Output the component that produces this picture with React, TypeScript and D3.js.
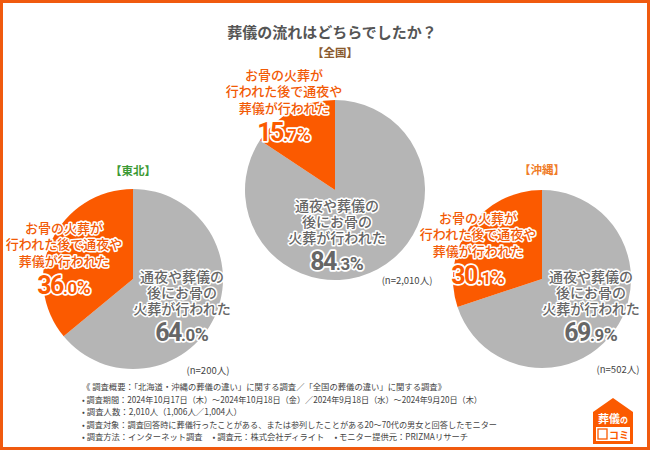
import * as d3 from 'd3';

const W = 650;
const H = 450;

// survey groups and their shares (%)
const regions = ['全国', '東北', '沖縄'];
const afterValues = [84.3, 64.0, 69.9]; // 通夜や葬儀の後にお骨の火葬
const beforeValues = [15.7, 36.0, 30.1]; // お骨の火葬が先
const sampleLabels = ['(n=2,010人)', '(n=200人)', '(n=502人)'];
const headerColors = ['#8a5a2e', '#3d9a35', '#f07c28'];

const beforeLines = ['お骨の火葬が', '行われた後で通夜や', '葬儀が行われた'];
const afterLines = ['通夜や葬儀の', '後にお骨の', '火葬が行われた'];

const footerLines = [
  '《 調査概要：「北海道・沖縄の葬儀の違い」に関する調査／「全国の葬儀の違い」に関する調査》',
  '• 調査期間：2024年10月17日（木）～2024年10月18日（金）／2024年9月18日（水）～2024年9月20日（木）',
  '• 調査人数：2,010人（1,006人／1,004人）',
  '• 調査対象：調査回答時に葬儀行ったことがある、または参列したことがある20～70代の男女と回答したモニター',
  '• 調査方法：インターネット調査　 • 調査元：株式会社ディライト　 • モニター提供元：PRIZMAリサーチ',
];
const footerWidths = [364, 400, 160, 415, 386];

const ORANGE = '#fb5a00';
const GRAY = '#b5b5b5';
const FONT = '"Noto Sans CJK JP", "Noto Sans", sans-serif';

// layout of each pie (center, radius) and label offsets from its center
const layout = [
  { cx: 335, cy: 190, r: 90, head: -138, bx: -51, by: -115, ax: 2, ay: 16, nx: 72, ny: 90 },
  { cx: 133, cy: 279, r: 90, head: -109, bx: -69, by: -51, ax: 49, ay: -2, nx: 75, ny: 91 },
  { cx: 542, cy: 279, r: 89, head: -110, bx: -64, by: -61, ax: 49, ay: -2, nx: 76, ny: 90 },
];

const pie = d3.pie<number>().sort(null).value(d => d);

// percentage with a big integer part and a smaller decimal, plus the label lines above it
function Label({ x, y, lines, value, fill, pctFill, size, gap, pctGap }: {
  x: number; y: number; lines: string[]; value: number; fill: string; pctFill: string;
  size: number; gap: number; pctGap: number;
}) {
  const [intPart, decPart] = value.toFixed(1).split('.');
  const base = size * 0.35;
  return (
    <text
      textAnchor="middle"
      stroke="#fff"
      strokeWidth={3}
      strokeLinejoin="round"
      paintOrder="stroke"
      fontFamily={FONT}
      fontWeight={500}
    >
      {lines.map((t, i) => (
        <tspan key={i} x={x} y={y + i * gap + base} fill={fill} fontSize={size}>{t}</tspan>
      ))}
      <tspan
        x={x}
        y={y + (lines.length - 1) * gap + pctGap + 8.5}
        fill={pctFill}
        fontFamily="Roboto, sans-serif"
        fontWeight={700}
        strokeWidth={3.5}
      >
        <tspan fontSize={25} letterSpacing={-1.5}>{intPart}</tspan>
        <tspan fontSize={17} letterSpacing={-0.5}>.{decPart}</tspan>
        <tspan fontSize={19}>%</tspan>
      </tspan>
    </text>
  );
}

function Logo() {
  const x = 593;
  const y = 398;
  return (
    <g>
      <path
        d={`M${x} ${y + 14} L${x + 20} ${y} L${x + 40} ${y + 14} L${x + 40} ${y + 46} L${x} ${y + 46} Z`}
        fill={ORANGE}
      />
      <text x={x + 20} y={y + 25} textAnchor="middle" fontSize={11} fontWeight={700} fill="#fff" fontFamily={FONT}>
        <tspan>葬儀</tspan>
        <tspan fontSize={8}>の</tspan>
      </text>
      <rect x={x + 3} y={y + 29} width={34} height={14} fill="#fff" />
      <rect x={x + 5} y={y + 31} width={9} height={10} fill="none" stroke={ORANGE} strokeWidth={1.3} />
      <text x={x + 26} y={y + 40.5} textAnchor="middle" fontSize={10} fontWeight={700} fill={ORANGE} fontFamily={FONT}>
        コミ
      </text>
    </g>
  );
}

export default function App() {
  const arc = d3.arc<d3.PieArcDatum<number>>().innerRadius(0);

  return (
    <svg width={W} height={H} style={{ display: 'block', position: 'absolute', left: 0, top: 0 }}>
      <rect x={1.5} y={1.5} width={W - 3} height={H - 3} fill="#fff" stroke="#f05a0f" strokeWidth={3} />

      <text
        x={332}
        y={31}
        textAnchor="middle"
        dominantBaseline="central"
        fontSize={15}
        fontWeight={700}
        fill="#555"
        fontFamily={FONT}
      >
        葬儀の流れはどちらでしたか？
      </text>

      {regions.map((name, i) => {
        const L = layout[i];
        const arcs = pie([afterValues[i], beforeValues[i]]);
        return (
          <g key={name}>
            <text
              x={L.cx}
              y={L.cy + L.head}
              textAnchor="middle"
              dominantBaseline="central"
              fontSize={11.5}
              fontWeight={700}
              fill={headerColors[i]}
              fontFamily={FONT}
            >
              【{name}】
            </text>
            <g transform={`translate(${L.cx},${L.cy})`}>
              {arcs.map((a, j) => (
                <path key={j} d={arc.outerRadius(L.r)(a) || ''} fill={j === 0 ? GRAY : ORANGE} />
              ))}
            </g>
            <Label
              x={L.cx + L.bx} y={L.cy + L.by} lines={beforeLines} value={beforeValues[i]}
              fill="#f25a05" pctFill={ORANGE} size={13} gap={16.5} pctGap={24}
            />
            <Label
              x={L.cx + L.ax} y={L.cy + L.ay} lines={afterLines} value={afterValues[i]}
              fill="#666" pctFill="#666" size={14} gap={16} pctGap={23}
            />
            <text
              x={L.cx + L.nx}
              y={L.cy + L.ny}
              textAnchor="middle"
              dominantBaseline="central"
              fontSize={9.5}
              fill="#444"
              fontFamily={FONT}
            >
              {sampleLabels[i]}
            </text>
          </g>
        );
      })}

      {footerLines.map((t, i) => (
        <text
          key={i}
          x={82}
          y={386 + i * 12.5}
          dominantBaseline="central"
          fontSize={8.5}
          fill="#444"
          fontFamily={FONT}
          textLength={footerWidths[i]}
          lengthAdjust="spacingAndGlyphs"
        >
          {t}
        </text>
      ))}

      <Logo />
    </svg>
  );
}
